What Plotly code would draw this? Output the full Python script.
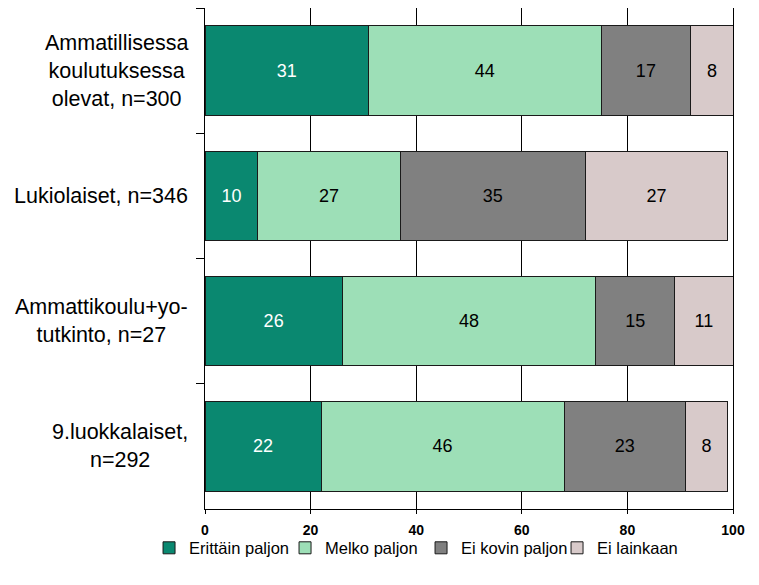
import plotly.graph_objects as go

categories = [
    "Ammatillisessa<br>koulutuksessa<br>olevat, n=300",
    "Lukiolaiset, n=346",
    "Ammattikoulu+yo-<br>tutkinto, n=27",
    "9.luokkalaiset,<br>n=292",
]
series_names = ["Erittäin paljon", "Melko paljon", "Ei kovin paljon", "Ei lainkaan"]
erittain = [31, 10, 26, 22]
melko = [44, 27, 48, 46]
ei_kovin = [17, 35, 15, 23]
ei_lainkaan = [8, 27, 11, 8]
x_ticks = [0, 20, 40, 60, 80, 100]

values = [erittain, melko, ei_kovin, ei_lainkaan]
colors = ["#0a8870", "#9ddfb7", "#808080", "#d8caca"]
text_colors = ["white", "black", "black", "black"]
FONT = "Arial, Liberation Sans, sans-serif"

fig = go.Figure()
for name, vals, col, tcol in zip(series_names, values, colors, text_colors):
    fig.add_trace(go.Bar(
        y=categories, x=vals, name=name, orientation="h",
        marker=dict(color=col, line=dict(color="#1a1a1a", width=1)),
        text=[str(v) for v in vals], textposition="inside",
        insidetextanchor="middle",
        textfont=dict(color=tcol, size=18, family=FONT),
        hoverinfo="skip",
    ))

for cat in categories:
    fig.add_annotation(
        x=-0.028, xref="paper", y=cat, yref="y", text=cat,
        showarrow=False, xanchor="right", yanchor="middle", align="center",
        font=dict(size=21.5, family=FONT, color="black"),
    )

fig.update_layout(
    width=751, height=577,
    margin=dict(l=197, r=26, t=0, b=76),
    barmode="stack", bargap=0.286,
    plot_bgcolor="white", paper_bgcolor="white",
    font=dict(family=FONT, color="black"),
    uniformtext=dict(mode="show", minsize=18),
    legend=dict(
        orientation="h", x=-0.106, xanchor="left", y=-0.078, yanchor="middle",
        font=dict(size=16.5, family=FONT), itemwidth=30,
        entrywidth=91, entrywidthmode="pixels",
        traceorder="normal", bgcolor="rgba(0,0,0,0)",
    ),
    showlegend=True,
)
fig.update_xaxes(
    range=[0, 100], tickvals=x_ticks, ticktext=[str(t) for t in x_ticks],
    showgrid=True, gridcolor="black", gridwidth=1,
    showline=True, linecolor="black", linewidth=1, mirror=True,
    ticks="outside", ticklen=4, tickcolor="black", ticklabelstandoff=4,
    tickfont=dict(size=14, family=FONT, weight="bold"),
    zeroline=False, fixedrange=True, automargin=False,
)
fig.update_yaxes(
    autorange="reversed", showticklabels=False,
    showline=True, linecolor="black", linewidth=1, mirror=True,
    ticks="outside", ticklen=8, tickcolor="black", tickson="boundaries",
    showgrid=False, fixedrange=True, automargin=False,
)

fig.write_html("out.html")
